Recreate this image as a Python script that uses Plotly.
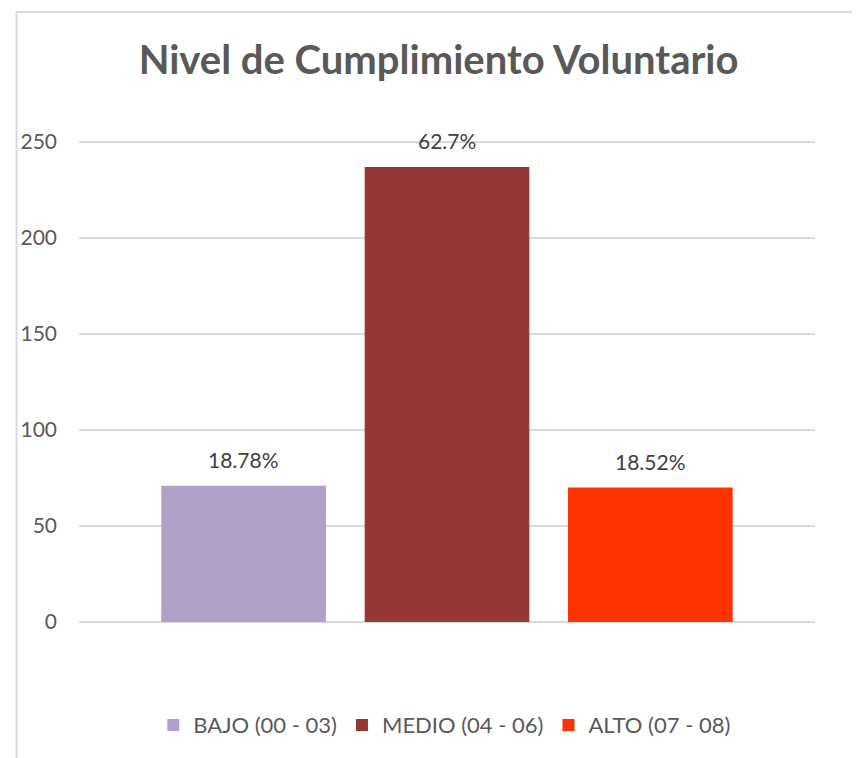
import plotly.graph_objects as go

categories = ["BAJO (00 - 03)", "MEDIO (04 - 06)", "ALTO (07 - 08)"]
values = [71, 237, 70]
pct_labels = ["18.78%", "62.7%", "18.52%"]
colors = ["#b1a0c7", "#953735", "#ff3300"]
y_ticks = [0, 50, 100, 150, 200, 250]

FONT = "Lato, Calibri, Carlito, sans-serif"

W, H = 852, 750          # page body has an 8px margin
L, R = 65, 807           # plot area (figure px)
TOP, ZERO = 131.6, 615.5
PH = ZERO - TOP


def py(px_y):
    return (ZERO - px_y) / PH


def px(px_x):
    return (px_x - L) / (R - L)


fig = go.Figure()
for i, (cat, val, col) in enumerate(zip(categories, values, colors)):
    fig.add_trace(go.Bar(
        x=[i], y=[val], name=cat,
        marker=dict(color=col, line=dict(width=0)),
        width=0.81,
        hoverinfo="skip",
    ))
    fig.add_annotation(
        x=i, y=val, text=pct_labels[i], showarrow=False,
        yshift=26, yanchor="middle",
        font=dict(family=FONT, size=21, color="#404040"),
    )

fig.update_layout(
    width=W, height=H,
    margin=dict(l=L, r=W - R, t=TOP, b=H - ZERO, pad=0),
    paper_bgcolor="white", plot_bgcolor="white",
    barmode="overlay",
    title=dict(
        text="<b>Nivel de Cumplimiento Voluntario</b>",
        x=px(440), xanchor="center", y=1 - 52 / H, yanchor="middle",
        font=dict(family=FONT, size=40, color="#595959"),
    ),
    showlegend=True,
    legend=dict(
        orientation="h", x=0.497, xanchor="center", y=py(719), yanchor="middle",
        font=dict(family=FONT, size=22, color="#595959"),
        itemclick=False, traceorder="normal",
    ),
    xaxis=dict(
        range=[-0.81, 2.81], showticklabels=False, showgrid=False,
        zeroline=False, showline=False, ticks="",
    ),
    yaxis=dict(
        range=[0, 251], tickvals=y_ticks, showgrid=True,
        gridcolor="#d9d9d9", gridwidth=1.5, zeroline=True,
        zerolinecolor="#d9d9d9", zerolinewidth=1.5, showline=False,
        ticks="", ticklabelstandoff=21,
        tickfont=dict(family=FONT, size=21, color="#595959"),
    ),
    shapes=[
        dict(type="line", xref="paper", yref="paper",
             x0=px(2), x1=px(870), y0=py(3), y1=py(3),
             line=dict(color="#d9d9d9", width=2), layer="below"),
        dict(type="line", xref="paper", yref="paper",
             x0=px(2), x1=px(2), y0=py(3), y1=py(770),
             line=dict(color="#d9d9d9", width=2), layer="below"),
    ],
)

fig.write_html("out.html")
